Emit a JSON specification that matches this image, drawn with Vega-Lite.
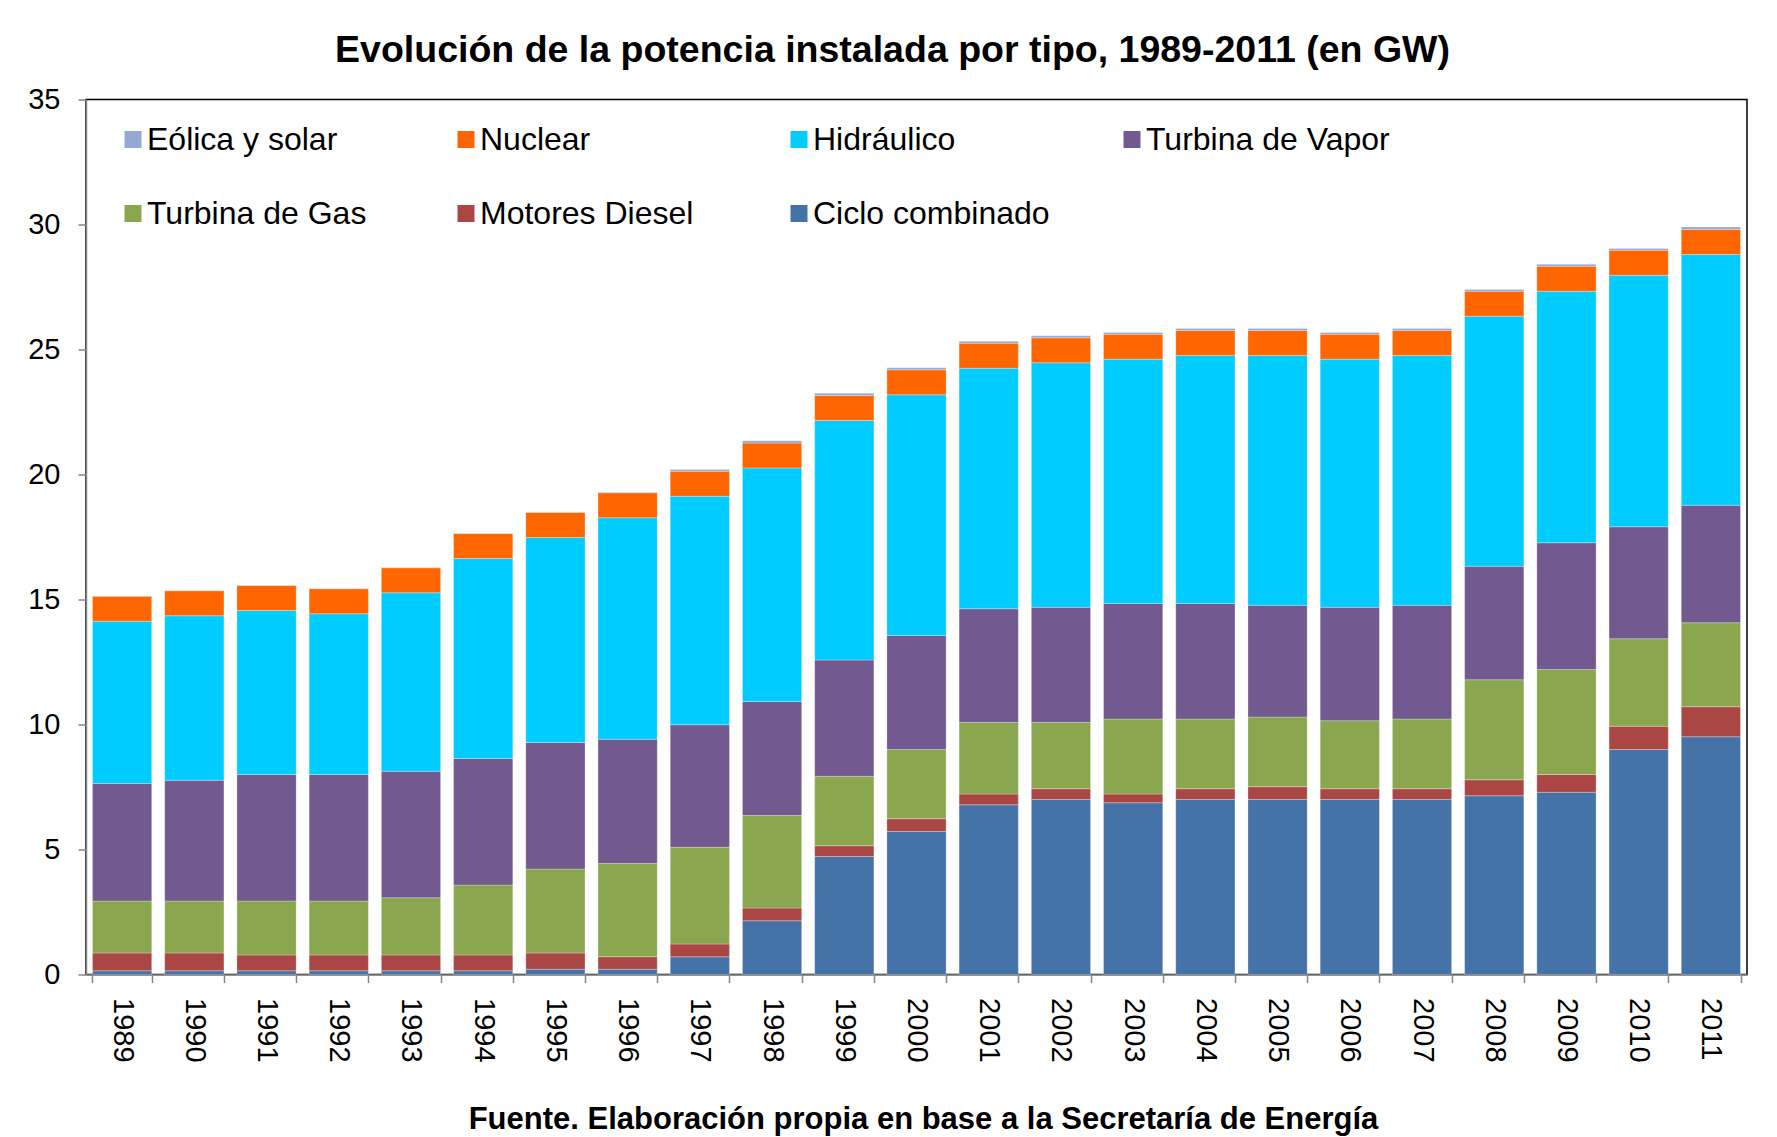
{
  "$schema": "https://vega.github.io/schema/vega-lite/v6.json",
  "width": 1661,
  "height": 875,
  "autosize": {"type": "none"},
  "padding": {"left": 86, "top": 99.5, "right": 30, "bottom": 162.5},
  "background": "#ffffff",
  "title": {
    "text": "Evolución de la potencia instalada por tipo, 1989-2011 (en GW)",
    "fontSize": 37.5,
    "fontWeight": "bold",
    "color": "#000000",
    "anchor": "middle",
    "baseline": "alphabetic",
    "offset": 26,
    "dy": 40,
    "dx": -24
  },
  "data": {
    "values": [
      {"anio": "1989", "tipo": "Ciclo combinado", "orden": 1, "gw": 0.15},
      {"anio": "1989", "tipo": "Motores Diesel", "orden": 2, "gw": 0.71},
      {"anio": "1989", "tipo": "Turbina de Gas", "orden": 3, "gw": 2.08},
      {"anio": "1989", "tipo": "Turbina de Vapor", "orden": 4, "gw": 4.70},
      {"anio": "1989", "tipo": "Hidráulico", "orden": 5, "gw": 6.49},
      {"anio": "1989", "tipo": "Nuclear", "orden": 6, "gw": 1.00},
      {"anio": "1989", "tipo": "Eólica y solar", "orden": 7, "gw": 0.01},
      {"anio": "1990", "tipo": "Ciclo combinado", "orden": 1, "gw": 0.15},
      {"anio": "1990", "tipo": "Motores Diesel", "orden": 2, "gw": 0.71},
      {"anio": "1990", "tipo": "Turbina de Gas", "orden": 3, "gw": 2.08},
      {"anio": "1990", "tipo": "Turbina de Vapor", "orden": 4, "gw": 4.83},
      {"anio": "1990", "tipo": "Hidráulico", "orden": 5, "gw": 6.58},
      {"anio": "1990", "tipo": "Nuclear", "orden": 6, "gw": 1.00},
      {"anio": "1990", "tipo": "Eólica y solar", "orden": 7, "gw": 0.01},
      {"anio": "1991", "tipo": "Ciclo combinado", "orden": 1, "gw": 0.15},
      {"anio": "1991", "tipo": "Motores Diesel", "orden": 2, "gw": 0.63},
      {"anio": "1991", "tipo": "Turbina de Gas", "orden": 3, "gw": 2.16},
      {"anio": "1991", "tipo": "Turbina de Vapor", "orden": 4, "gw": 5.06},
      {"anio": "1991", "tipo": "Hidráulico", "orden": 5, "gw": 6.56},
      {"anio": "1991", "tipo": "Nuclear", "orden": 6, "gw": 1.00},
      {"anio": "1991", "tipo": "Eólica y solar", "orden": 7, "gw": 0.01},
      {"anio": "1992", "tipo": "Ciclo combinado", "orden": 1, "gw": 0.15},
      {"anio": "1992", "tipo": "Motores Diesel", "orden": 2, "gw": 0.63},
      {"anio": "1992", "tipo": "Turbina de Gas", "orden": 3, "gw": 2.16},
      {"anio": "1992", "tipo": "Turbina de Vapor", "orden": 4, "gw": 5.06},
      {"anio": "1992", "tipo": "Hidráulico", "orden": 5, "gw": 6.43},
      {"anio": "1992", "tipo": "Nuclear", "orden": 6, "gw": 1.00},
      {"anio": "1992", "tipo": "Eólica y solar", "orden": 7, "gw": 0.01},
      {"anio": "1993", "tipo": "Ciclo combinado", "orden": 1, "gw": 0.15},
      {"anio": "1993", "tipo": "Motores Diesel", "orden": 2, "gw": 0.63},
      {"anio": "1993", "tipo": "Turbina de Gas", "orden": 3, "gw": 2.29},
      {"anio": "1993", "tipo": "Turbina de Vapor", "orden": 4, "gw": 5.06},
      {"anio": "1993", "tipo": "Hidráulico", "orden": 5, "gw": 7.14},
      {"anio": "1993", "tipo": "Nuclear", "orden": 6, "gw": 1.00},
      {"anio": "1993", "tipo": "Eólica y solar", "orden": 7, "gw": 0.01},
      {"anio": "1994", "tipo": "Ciclo combinado", "orden": 1, "gw": 0.15},
      {"anio": "1994", "tipo": "Motores Diesel", "orden": 2, "gw": 0.63},
      {"anio": "1994", "tipo": "Turbina de Gas", "orden": 3, "gw": 2.80},
      {"anio": "1994", "tipo": "Turbina de Vapor", "orden": 4, "gw": 5.06},
      {"anio": "1994", "tipo": "Hidráulico", "orden": 5, "gw": 8.00},
      {"anio": "1994", "tipo": "Nuclear", "orden": 6, "gw": 1.00},
      {"anio": "1994", "tipo": "Eólica y solar", "orden": 7, "gw": 0.01},
      {"anio": "1995", "tipo": "Ciclo combinado", "orden": 1, "gw": 0.21},
      {"anio": "1995", "tipo": "Motores Diesel", "orden": 2, "gw": 0.65},
      {"anio": "1995", "tipo": "Turbina de Gas", "orden": 3, "gw": 3.36},
      {"anio": "1995", "tipo": "Turbina de Vapor", "orden": 4, "gw": 5.06},
      {"anio": "1995", "tipo": "Hidráulico", "orden": 5, "gw": 8.20},
      {"anio": "1995", "tipo": "Nuclear", "orden": 6, "gw": 1.00},
      {"anio": "1995", "tipo": "Eólica y solar", "orden": 7, "gw": 0.01},
      {"anio": "1996", "tipo": "Ciclo combinado", "orden": 1, "gw": 0.21},
      {"anio": "1996", "tipo": "Motores Diesel", "orden": 2, "gw": 0.50},
      {"anio": "1996", "tipo": "Turbina de Gas", "orden": 3, "gw": 3.73},
      {"anio": "1996", "tipo": "Turbina de Vapor", "orden": 4, "gw": 4.97},
      {"anio": "1996", "tipo": "Hidráulico", "orden": 5, "gw": 8.86},
      {"anio": "1996", "tipo": "Nuclear", "orden": 6, "gw": 1.00},
      {"anio": "1996", "tipo": "Eólica y solar", "orden": 7, "gw": 0.02},
      {"anio": "1997", "tipo": "Ciclo combinado", "orden": 1, "gw": 0.71},
      {"anio": "1997", "tipo": "Motores Diesel", "orden": 2, "gw": 0.51},
      {"anio": "1997", "tipo": "Turbina de Gas", "orden": 3, "gw": 3.87},
      {"anio": "1997", "tipo": "Turbina de Vapor", "orden": 4, "gw": 4.90},
      {"anio": "1997", "tipo": "Hidráulico", "orden": 5, "gw": 9.14},
      {"anio": "1997", "tipo": "Nuclear", "orden": 6, "gw": 1.00},
      {"anio": "1997", "tipo": "Eólica y solar", "orden": 7, "gw": 0.07},
      {"anio": "1998", "tipo": "Ciclo combinado", "orden": 1, "gw": 2.15},
      {"anio": "1998", "tipo": "Motores Diesel", "orden": 2, "gw": 0.51},
      {"anio": "1998", "tipo": "Turbina de Gas", "orden": 3, "gw": 3.70},
      {"anio": "1998", "tipo": "Turbina de Vapor", "orden": 4, "gw": 4.56},
      {"anio": "1998", "tipo": "Hidráulico", "orden": 5, "gw": 9.34},
      {"anio": "1998", "tipo": "Nuclear", "orden": 6, "gw": 1.00},
      {"anio": "1998", "tipo": "Eólica y solar", "orden": 7, "gw": 0.09},
      {"anio": "1999", "tipo": "Ciclo combinado", "orden": 1, "gw": 4.72},
      {"anio": "1999", "tipo": "Motores Diesel", "orden": 2, "gw": 0.43},
      {"anio": "1999", "tipo": "Turbina de Gas", "orden": 3, "gw": 2.78},
      {"anio": "1999", "tipo": "Turbina de Vapor", "orden": 4, "gw": 4.65},
      {"anio": "1999", "tipo": "Hidráulico", "orden": 5, "gw": 9.58},
      {"anio": "1999", "tipo": "Nuclear", "orden": 6, "gw": 1.00},
      {"anio": "1999", "tipo": "Eólica y solar", "orden": 7, "gw": 0.09},
      {"anio": "2000", "tipo": "Ciclo combinado", "orden": 1, "gw": 5.72},
      {"anio": "2000", "tipo": "Motores Diesel", "orden": 2, "gw": 0.51},
      {"anio": "2000", "tipo": "Turbina de Gas", "orden": 3, "gw": 2.77},
      {"anio": "2000", "tipo": "Turbina de Vapor", "orden": 4, "gw": 4.56},
      {"anio": "2000", "tipo": "Hidráulico", "orden": 5, "gw": 9.63},
      {"anio": "2000", "tipo": "Nuclear", "orden": 6, "gw": 1.00},
      {"anio": "2000", "tipo": "Eólica y solar", "orden": 7, "gw": 0.08},
      {"anio": "2001", "tipo": "Ciclo combinado", "orden": 1, "gw": 6.79},
      {"anio": "2001", "tipo": "Motores Diesel", "orden": 2, "gw": 0.43},
      {"anio": "2001", "tipo": "Turbina de Gas", "orden": 3, "gw": 2.86},
      {"anio": "2001", "tipo": "Turbina de Vapor", "orden": 4, "gw": 4.55},
      {"anio": "2001", "tipo": "Hidráulico", "orden": 5, "gw": 9.62},
      {"anio": "2001", "tipo": "Nuclear", "orden": 6, "gw": 1.00},
      {"anio": "2001", "tipo": "Eólica y solar", "orden": 7, "gw": 0.08},
      {"anio": "2002", "tipo": "Ciclo combinado", "orden": 1, "gw": 7.00},
      {"anio": "2002", "tipo": "Motores Diesel", "orden": 2, "gw": 0.43},
      {"anio": "2002", "tipo": "Turbina de Gas", "orden": 3, "gw": 2.65},
      {"anio": "2002", "tipo": "Turbina de Vapor", "orden": 4, "gw": 4.61},
      {"anio": "2002", "tipo": "Hidráulico", "orden": 5, "gw": 9.78},
      {"anio": "2002", "tipo": "Nuclear", "orden": 6, "gw": 1.00},
      {"anio": "2002", "tipo": "Eólica y solar", "orden": 7, "gw": 0.08},
      {"anio": "2003", "tipo": "Ciclo combinado", "orden": 1, "gw": 6.87},
      {"anio": "2003", "tipo": "Motores Diesel", "orden": 2, "gw": 0.35},
      {"anio": "2003", "tipo": "Turbina de Gas", "orden": 3, "gw": 3.00},
      {"anio": "2003", "tipo": "Turbina de Vapor", "orden": 4, "gw": 4.62},
      {"anio": "2003", "tipo": "Hidráulico", "orden": 5, "gw": 9.77},
      {"anio": "2003", "tipo": "Nuclear", "orden": 6, "gw": 1.00},
      {"anio": "2003", "tipo": "Eólica y solar", "orden": 7, "gw": 0.07},
      {"anio": "2004", "tipo": "Ciclo combinado", "orden": 1, "gw": 7.00},
      {"anio": "2004", "tipo": "Motores Diesel", "orden": 2, "gw": 0.43},
      {"anio": "2004", "tipo": "Turbina de Gas", "orden": 3, "gw": 2.79},
      {"anio": "2004", "tipo": "Turbina de Vapor", "orden": 4, "gw": 4.62},
      {"anio": "2004", "tipo": "Hidráulico", "orden": 5, "gw": 9.92},
      {"anio": "2004", "tipo": "Nuclear", "orden": 6, "gw": 1.00},
      {"anio": "2004", "tipo": "Eólica y solar", "orden": 7, "gw": 0.08},
      {"anio": "2005", "tipo": "Ciclo combinado", "orden": 1, "gw": 7.00},
      {"anio": "2005", "tipo": "Motores Diesel", "orden": 2, "gw": 0.51},
      {"anio": "2005", "tipo": "Turbina de Gas", "orden": 3, "gw": 2.79},
      {"anio": "2005", "tipo": "Turbina de Vapor", "orden": 4, "gw": 4.47},
      {"anio": "2005", "tipo": "Hidráulico", "orden": 5, "gw": 9.99},
      {"anio": "2005", "tipo": "Nuclear", "orden": 6, "gw": 1.00},
      {"anio": "2005", "tipo": "Eólica y solar", "orden": 7, "gw": 0.08},
      {"anio": "2006", "tipo": "Ciclo combinado", "orden": 1, "gw": 7.00},
      {"anio": "2006", "tipo": "Motores Diesel", "orden": 2, "gw": 0.43},
      {"anio": "2006", "tipo": "Turbina de Gas", "orden": 3, "gw": 2.72},
      {"anio": "2006", "tipo": "Turbina de Vapor", "orden": 4, "gw": 4.54},
      {"anio": "2006", "tipo": "Hidráulico", "orden": 5, "gw": 9.92},
      {"anio": "2006", "tipo": "Nuclear", "orden": 6, "gw": 1.00},
      {"anio": "2006", "tipo": "Eólica y solar", "orden": 7, "gw": 0.07},
      {"anio": "2007", "tipo": "Ciclo combinado", "orden": 1, "gw": 7.00},
      {"anio": "2007", "tipo": "Motores Diesel", "orden": 2, "gw": 0.43},
      {"anio": "2007", "tipo": "Turbina de Gas", "orden": 3, "gw": 2.79},
      {"anio": "2007", "tipo": "Turbina de Vapor", "orden": 4, "gw": 4.55},
      {"anio": "2007", "tipo": "Hidráulico", "orden": 5, "gw": 9.99},
      {"anio": "2007", "tipo": "Nuclear", "orden": 6, "gw": 1.00},
      {"anio": "2007", "tipo": "Eólica y solar", "orden": 7, "gw": 0.08},
      {"anio": "2008", "tipo": "Ciclo combinado", "orden": 1, "gw": 7.15},
      {"anio": "2008", "tipo": "Motores Diesel", "orden": 2, "gw": 0.64},
      {"anio": "2008", "tipo": "Turbina de Gas", "orden": 3, "gw": 4.00},
      {"anio": "2008", "tipo": "Turbina de Vapor", "orden": 4, "gw": 4.54},
      {"anio": "2008", "tipo": "Hidráulico", "orden": 5, "gw": 10.00},
      {"anio": "2008", "tipo": "Nuclear", "orden": 6, "gw": 1.00},
      {"anio": "2008", "tipo": "Eólica y solar", "orden": 7, "gw": 0.07},
      {"anio": "2009", "tipo": "Ciclo combinado", "orden": 1, "gw": 7.29},
      {"anio": "2009", "tipo": "Motores Diesel", "orden": 2, "gw": 0.71},
      {"anio": "2009", "tipo": "Turbina de Gas", "orden": 3, "gw": 4.20},
      {"anio": "2009", "tipo": "Turbina de Vapor", "orden": 4, "gw": 5.07},
      {"anio": "2009", "tipo": "Hidráulico", "orden": 5, "gw": 10.06},
      {"anio": "2009", "tipo": "Nuclear", "orden": 6, "gw": 1.00},
      {"anio": "2009", "tipo": "Eólica y solar", "orden": 7, "gw": 0.08},
      {"anio": "2010", "tipo": "Ciclo combinado", "orden": 1, "gw": 9.00},
      {"anio": "2010", "tipo": "Motores Diesel", "orden": 2, "gw": 0.93},
      {"anio": "2010", "tipo": "Turbina de Gas", "orden": 3, "gw": 3.50},
      {"anio": "2010", "tipo": "Turbina de Vapor", "orden": 4, "gw": 4.48},
      {"anio": "2010", "tipo": "Hidráulico", "orden": 5, "gw": 10.06},
      {"anio": "2010", "tipo": "Nuclear", "orden": 6, "gw": 1.00},
      {"anio": "2010", "tipo": "Eólica y solar", "orden": 7, "gw": 0.07},
      {"anio": "2011", "tipo": "Ciclo combinado", "orden": 1, "gw": 9.51},
      {"anio": "2011", "tipo": "Motores Diesel", "orden": 2, "gw": 1.20},
      {"anio": "2011", "tipo": "Turbina de Gas", "orden": 3, "gw": 3.36},
      {"anio": "2011", "tipo": "Turbina de Vapor", "orden": 4, "gw": 4.70},
      {"anio": "2011", "tipo": "Hidráulico", "orden": 5, "gw": 10.03},
      {"anio": "2011", "tipo": "Nuclear", "orden": 6, "gw": 1.00},
      {"anio": "2011", "tipo": "Eólica y solar", "orden": 7, "gw": 0.10}
    ]
  },
  "mark": {"type": "bar", "stroke": "#ffffff", "strokeWidth": 0.6, "strokeOpacity": 0.45},
  "encoding": {
    "x": {
      "field": "anio",
      "type": "ordinal",
      "scale": {"paddingInner": 0.18, "paddingOuter": 0.09},
      "axis": {
        "title": "Fuente. Elaboración propia en base a la Secretaría de Energía",
        "labelAngle": 90,
        "labelFontSize": 29,
        "labelColor": "#000000",
        "labelPadding": 15,
        "tickBand": "extent",
        "tickSize": 8,
        "tickWidth": 1.5,
        "tickColor": "#868686",
        "domainColor": "#868686",
        "domainWidth": 1.5,
        "titleFontSize": 31,
        "titleFontWeight": "bold",
        "titleColor": "#000000",
        "titleX": 837,
        "titleY": 154,
        "titleBaseline": "alphabetic",
        "titleAlign": "center"
      }
    },
    "y": {
      "field": "gw",
      "type": "quantitative",
      "stack": "zero",
      "scale": {"domain": [0, 35], "nice": false},
      "axis": {
        "title": null,
        "values": [0, 5, 10, 15, 20, 25, 30, 35],
        "grid": false,
        "labelFontSize": 29,
        "labelColor": "#000000",
        "labelPadding": 18,
        "tickSize": 8,
        "tickWidth": 1.5,
        "tickColor": "#868686",
        "domainColor": "#868686",
        "domainWidth": 1.5
      }
    },
    "color": {
      "field": "tipo",
      "type": "nominal",
      "scale": {
        "domain": ["Eólica y solar", "Nuclear", "Hidráulico", "Turbina de Vapor", "Turbina de Gas", "Motores Diesel", "Ciclo combinado"],
        "range": ["#93A9D1", "#FF6600", "#00CCFF", "#72598F", "#8AA64E", "#AA4643", "#4572A7"]
      },
      "legend": {
        "title": null,
        "orient": "none",
        "legendX": 31,
        "legendY": 24,
        "direction": "horizontal",
        "columns": 4,
        "gridAlign": "all",
        "columnPadding": 59,
        "rowPadding": 42,
        "padding": 0,
        "symbolType": "square",
        "symbolSize": 289,
        "symbolStrokeWidth": 0,
        "labelFontSize": 32,
        "labelColor": "#000000",
        "labelLimit": 400,
        "labelOffset": -2
      }
    },
    "order": {"field": "orden", "type": "quantitative"}
  },
  "config": {
    "font": "Liberation Sans",
    "view": {"stroke": "#000000", "strokeWidth": 1.5}
  }
}
